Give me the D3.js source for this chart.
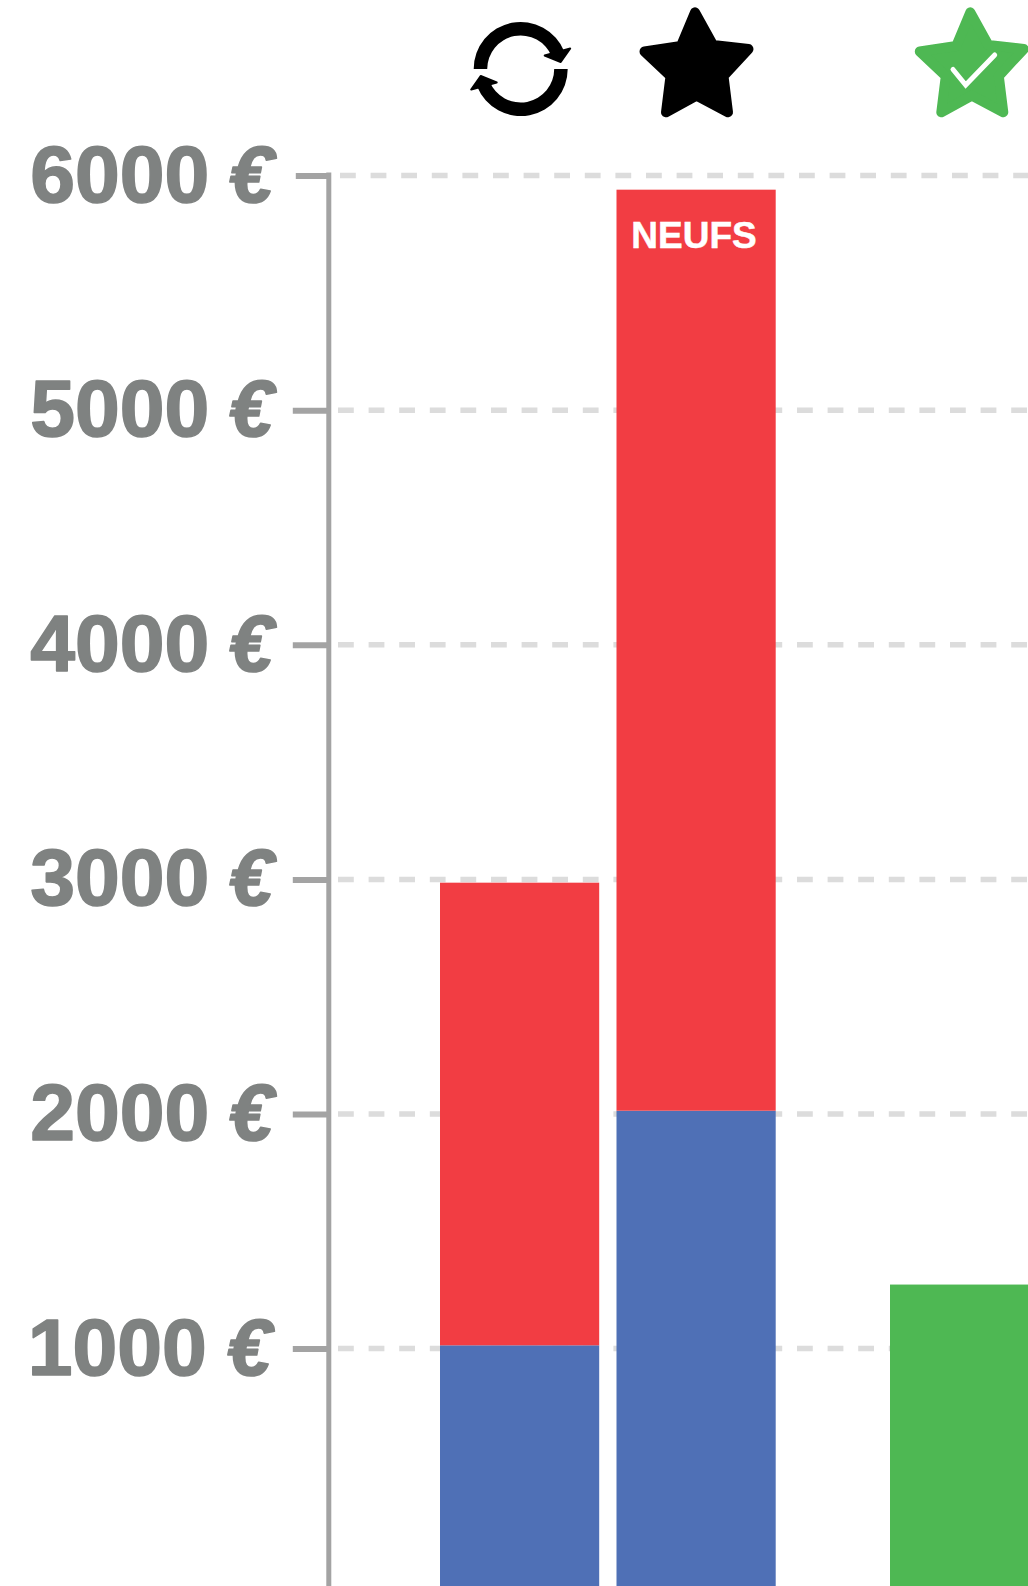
<!DOCTYPE html>
<html>
<head>
<meta charset="utf-8">
<script src="https://d3js.org/d3.v7.min.js"></script>
<style>
html,body{margin:0;padding:0;background:#fff;overflow:hidden}
svg{display:block}
text{font-family:"Liberation Sans",Arial,sans-serif;font-weight:700}
</style>
</head>
<body>
<div id="chart"></div>
<script>
const categories = ["reconditionnes", "neufs", "certifies"];
const seriesBlue = [1014, 2014, 0];
const seriesRed = [1972, 3926, 0];
const seriesGreen = [0, 0, 1273];
const tickValues = [1000, 2000, 3000, 4000, 5000, 6000];
const tickNumbers = ["1000", "2000", "3000", "4000", "5000", "6000"];
const tickUnit = "€";
const barLabel = "NEUFS";
const cropValue = -12;

const W = 1028, H = 1586;
const colors = {blue:"#4f70b6", red:"#f23d43", green:"#4eb853", axis:"#a3a3a3", label:"#7f8281", grid:"#dcdcdc"};

const svg = d3.select("#chart").append("svg").attr("width", W).attr("height", H).attr("viewBox", `0 0 ${W} ${H}`);
svg.append("rect").attr("width", W).attr("height", H).attr("fill", "#fff");

const y = d3.scaleLinear().domain([1000, 6000]).range([1348.6, 175.6]);
const x = d3.scaleOrdinal().domain(categories).range([440, 616.5, 890]);
const barW = 159.2;

// grid
svg.append("g").selectAll("line").data(tickValues).join("line")
  .attr("x1", d => d === 6000 ? 340 : 338).attr("x2", W)
  .attr("y1", d => y(d)).attr("y2", d => y(d))
  .attr("stroke", colors.grid).attr("stroke-width", 5.5).attr("stroke-dasharray", "15.8 14.8");

// stacked bars
const stackRows = categories.map((c, i) => ({cat:c, blue:seriesBlue[i], red:seriesRed[i], green:seriesGreen[i]}));
const stack = d3.stack().keys(["blue", "red", "green"])(stackRows);
svg.append("g").selectAll("g").data(stack).join("g")
  .attr("fill", s => colors[s.key])
  .selectAll("rect").data(s => s.filter(d => d[1] > d[0])).join("rect")
  .attr("x", d => x(d.data.cat))
  .attr("width", barW)
  .attr("y", d => y(d[1]))
  .attr("height", d => y(d[0] === 0 ? cropValue : d[0]) - y(d[1]));

// axis
const axis = d3.axisLeft(y).tickValues(tickValues).tickSize(36).tickPadding(0).tickFormat((d, i) => tickNumbers[i] + " ");
const gAxis = svg.append("g").attr("transform", "translate(328.8,0)").call(axis);
gAxis.select(".domain").remove();
gAxis.selectAll(".tick line").attr("stroke", colors.axis).attr("stroke-width", 6)
  .attr("x2", d => d === 6000 ? -33 : -36);
gAxis.selectAll(".tick text")
  .attr("x", d => (d === 1000 ? 271.5 : 273.5) - 328.8).attr("dy", "25.5px")
  .attr("fill", colors.label).attr("font-size", 80.5).attr("font-weight", 700)
  .attr("font-family", '"Liberation Sans",Arial,sans-serif')
  .attr("stroke", colors.label).attr("stroke-width", 1.6).attr("stroke-linejoin", "round")
  .attr("word-spacing", d => d === 1000 ? -2.5 : -3)
  .attr("text-anchor", "end")
  .append("tspan").attr("font-style", "italic").text(tickUnit);
svg.append("path")
  .attr("d", d3.line()([[328.8, y(6000) - 3], [328.8, y(cropValue)]]))
  .attr("stroke", colors.axis).attr("stroke-width", 5).attr("fill", "none");

// bar label
svg.append("text").attr("x", x("neufs") + 77.5).attr("y", 248)
  .attr("text-anchor", "middle").attr("fill", "#fff").attr("stroke", "#fff").attr("stroke-width", 0.5)
  .attr("font-size", 37).text(barLabel);

// icons
const rc = [520.7, 69];
const arc = d3.arc().innerRadius(33.5).outerRadius(47);
const deg = Math.PI / 180;
const gR = svg.append("g").attr("transform", `translate(${rc[0]},${rc[1]})`);
[0, 180].forEach(r => {
  const g = gR.append("g").attr("transform", `rotate(${r})`);
  g.append("path").attr("d", arc({startAngle:-90 * deg, endAngle:68 * deg}));
  g.append("path").attr("d", "M24,-13.5 L40,-7 L49.5,-20.5 Z")
    .attr("stroke", "#000").attr("stroke-width", 2).attr("stroke-linejoin", "round");
});

const starPts = [[695,12.3],[713,45],[748.5,49],[723.5,76],[728,112.3],[696.5,95.5],[666,112.3],[670.5,76],[644.5,51.5],[681,46]];
const starPath = d3.line().curve(d3.curveLinearClosed)(starPts);
svg.append("path").attr("d", starPath).attr("fill", "#000").attr("stroke", "#000")
  .attr("stroke-width", 10).attr("stroke-linejoin", "round");
const gS = svg.append("g").attr("transform", "translate(275.3,0)");
gS.append("path").attr("d", starPath).attr("fill", colors.green).attr("stroke", colors.green)
  .attr("stroke-width", 10).attr("stroke-linejoin", "round");
svg.append("path").attr("d", "M953,69.5 L965.7,85 L994.7,55").attr("fill", "none").attr("stroke", "#fff")
  .attr("stroke-width", 5).attr("stroke-linecap", "round");
</script>
</body>
</html>
